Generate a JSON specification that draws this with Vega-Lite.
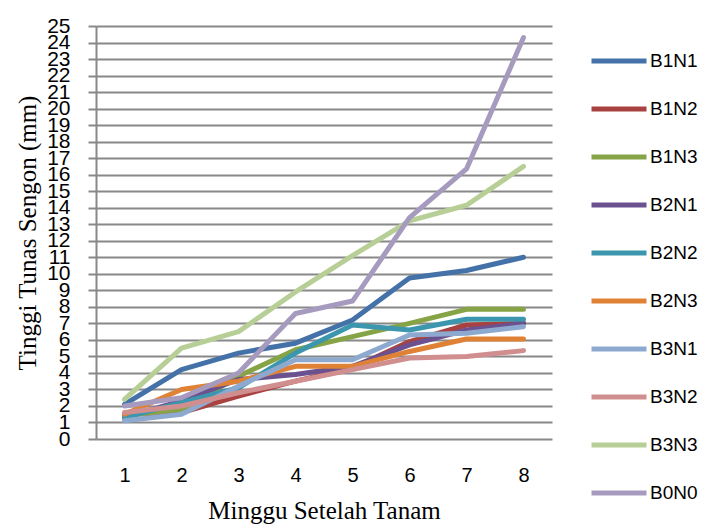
{
  "$schema": "https://vega.github.io/schema/vega-lite/v6.json",
  "autosize": {"type": "none"},
  "padding": {"left": 96, "top": 26, "right": 159, "bottom": 87},
  "width": 456,
  "height": 413,
  "background": "white",
  "data": {"values": [
    {"s":"B1N1","w":1,"v":2.1},{"s":"B1N1","w":2,"v":4.2},{"s":"B1N1","w":3,"v":5.2},{"s":"B1N1","w":4,"v":5.8},{"s":"B1N1","w":5,"v":7.2},{"s":"B1N1","w":6,"v":9.75},{"s":"B1N1","w":7,"v":10.2},{"s":"B1N1","w":8,"v":11.0},
    {"s":"B1N2","w":1,"v":1.5},{"s":"B1N2","w":2,"v":1.6},{"s":"B1N2","w":3,"v":2.6},{"s":"B1N2","w":4,"v":3.5},{"s":"B1N2","w":5,"v":4.3},{"s":"B1N2","w":6,"v":5.9},{"s":"B1N2","w":7,"v":6.9},{"s":"B1N2","w":8,"v":7.0},
    {"s":"B1N3","w":1,"v":1.4},{"s":"B1N3","w":2,"v":1.8},{"s":"B1N3","w":3,"v":3.8},{"s":"B1N3","w":4,"v":5.4},{"s":"B1N3","w":5,"v":6.2},{"s":"B1N3","w":6,"v":7.0},{"s":"B1N3","w":7,"v":7.85},{"s":"B1N3","w":8,"v":7.85},
    {"s":"B2N1","w":1,"v":1.3},{"s":"B2N1","w":2,"v":2.3},{"s":"B2N1","w":3,"v":3.6},{"s":"B2N1","w":4,"v":3.9},{"s":"B2N1","w":5,"v":4.4},{"s":"B2N1","w":6,"v":5.7},{"s":"B2N1","w":7,"v":6.6},{"s":"B2N1","w":8,"v":7.0},
    {"s":"B2N2","w":1,"v":1.3},{"s":"B2N2","w":2,"v":2.2},{"s":"B2N2","w":3,"v":3.1},{"s":"B2N2","w":4,"v":5.2},{"s":"B2N2","w":5,"v":6.9},{"s":"B2N2","w":6,"v":6.6},{"s":"B2N2","w":7,"v":7.25},{"s":"B2N2","w":8,"v":7.25},
    {"s":"B2N3","w":1,"v":1.5},{"s":"B2N3","w":2,"v":3.0},{"s":"B2N3","w":3,"v":3.5},{"s":"B2N3","w":4,"v":4.4},{"s":"B2N3","w":5,"v":4.4},{"s":"B2N3","w":6,"v":5.3},{"s":"B2N3","w":7,"v":6.05},{"s":"B2N3","w":8,"v":6.05},
    {"s":"B3N1","w":1,"v":1.1},{"s":"B3N1","w":2,"v":1.5},{"s":"B3N1","w":3,"v":3.2},{"s":"B3N1","w":4,"v":4.8},{"s":"B3N1","w":5,"v":4.8},{"s":"B3N1","w":6,"v":6.3},{"s":"B3N1","w":7,"v":6.4},{"s":"B3N1","w":8,"v":6.8},
    {"s":"B3N2","w":1,"v":1.6},{"s":"B3N2","w":2,"v":2.0},{"s":"B3N2","w":3,"v":2.8},{"s":"B3N2","w":4,"v":3.5},{"s":"B3N2","w":5,"v":4.2},{"s":"B3N2","w":6,"v":4.9},{"s":"B3N2","w":7,"v":5.0},{"s":"B3N2","w":8,"v":5.35},
    {"s":"B3N3","w":1,"v":2.4},{"s":"B3N3","w":2,"v":5.5},{"s":"B3N3","w":3,"v":6.5},{"s":"B3N3","w":4,"v":8.9},{"s":"B3N3","w":5,"v":11.1},{"s":"B3N3","w":6,"v":13.2},{"s":"B3N3","w":7,"v":14.15},{"s":"B3N3","w":8,"v":16.5},
    {"s":"B0N0","w":1,"v":2.0},{"s":"B0N0","w":2,"v":2.5},{"s":"B0N0","w":3,"v":4.0},{"s":"B0N0","w":4,"v":7.6},{"s":"B0N0","w":5,"v":8.35},{"s":"B0N0","w":6,"v":13.4},{"s":"B0N0","w":7,"v":16.35},{"s":"B0N0","w":8,"v":24.3}
  ]},
  "mark": {"type": "line", "strokeWidth": 5, "strokeCap": "round", "strokeJoin": "round"},
  "encoding": {
    "x": {
      "field": "w", "type": "ordinal", "sort": null,
      "scale": {"type": "point", "padding": 0.5},
      "axis": {
        "title": "Minggu Setelah Tanam", "titleFont": "Liberation Serif", "titleFontSize": 25, "titleFontWeight": "normal", "titleColor": "black", "titlePadding": 13,
        "labelAngle": 0, "labelFont": "Liberation Sans", "labelFontSize": 20, "labelColor": "black", "labelPadding": 26,
        "ticks": false, "domain": false, "grid": false
      }
    },
    "y": {
      "field": "v", "type": "quantitative",
      "scale": {"domain": [0, 25], "nice": false},
      "axis": {
        "title": "Tinggi Tunas Sengon (mm)", "titleFont": "Liberation Serif", "titleFontSize": 25, "titleFontWeight": "normal", "titleColor": "black", "titlePadding": 6,
        "values": [0,1,2,3,4,5,6,7,8,9,10,11,12,13,14,15,16,17,18,19,20,21,22,23,24,25],
        "labelFont": "Liberation Sans", "labelFontSize": 21, "labelColor": "black", "labelPadding": 18, "labelOverlap": false,
        "tickSize": 8, "tickColor": "#888888", "tickWidth": 2,
        "grid": true, "gridColor": "#888888", "gridWidth": 2,
        "domain": true, "domainColor": "#888888", "domainWidth": 2
      }
    },
    "color": {
      "field": "s", "type": "nominal",
      "scale": {
        "domain": ["B1N1","B1N2","B1N3","B2N1","B2N2","B2N3","B3N1","B3N2","B3N3","B0N0"],
        "range": ["#4472A8","#A84240","#86A446","#6B5190","#3C97AE","#DF8236","#8EA9D0","#D08F8E","#B7CF97","#A69BBF"]
      },
      "legend": {
        "orient": "none", "legendX": 493, "legendY": 11, "title": null, "padding": 0,
        "symbolType": "stroke", "symbolSize": 3025, "symbolStrokeWidth": 5,
        "labelFont": "Liberation Sans", "labelFontSize": 19, "labelColor": "black", "labelOffset": 1,
        "clipHeight": 48, "rowPadding": 0
      }
    }
  },
  "config": {"view": {"stroke": null}}
}
